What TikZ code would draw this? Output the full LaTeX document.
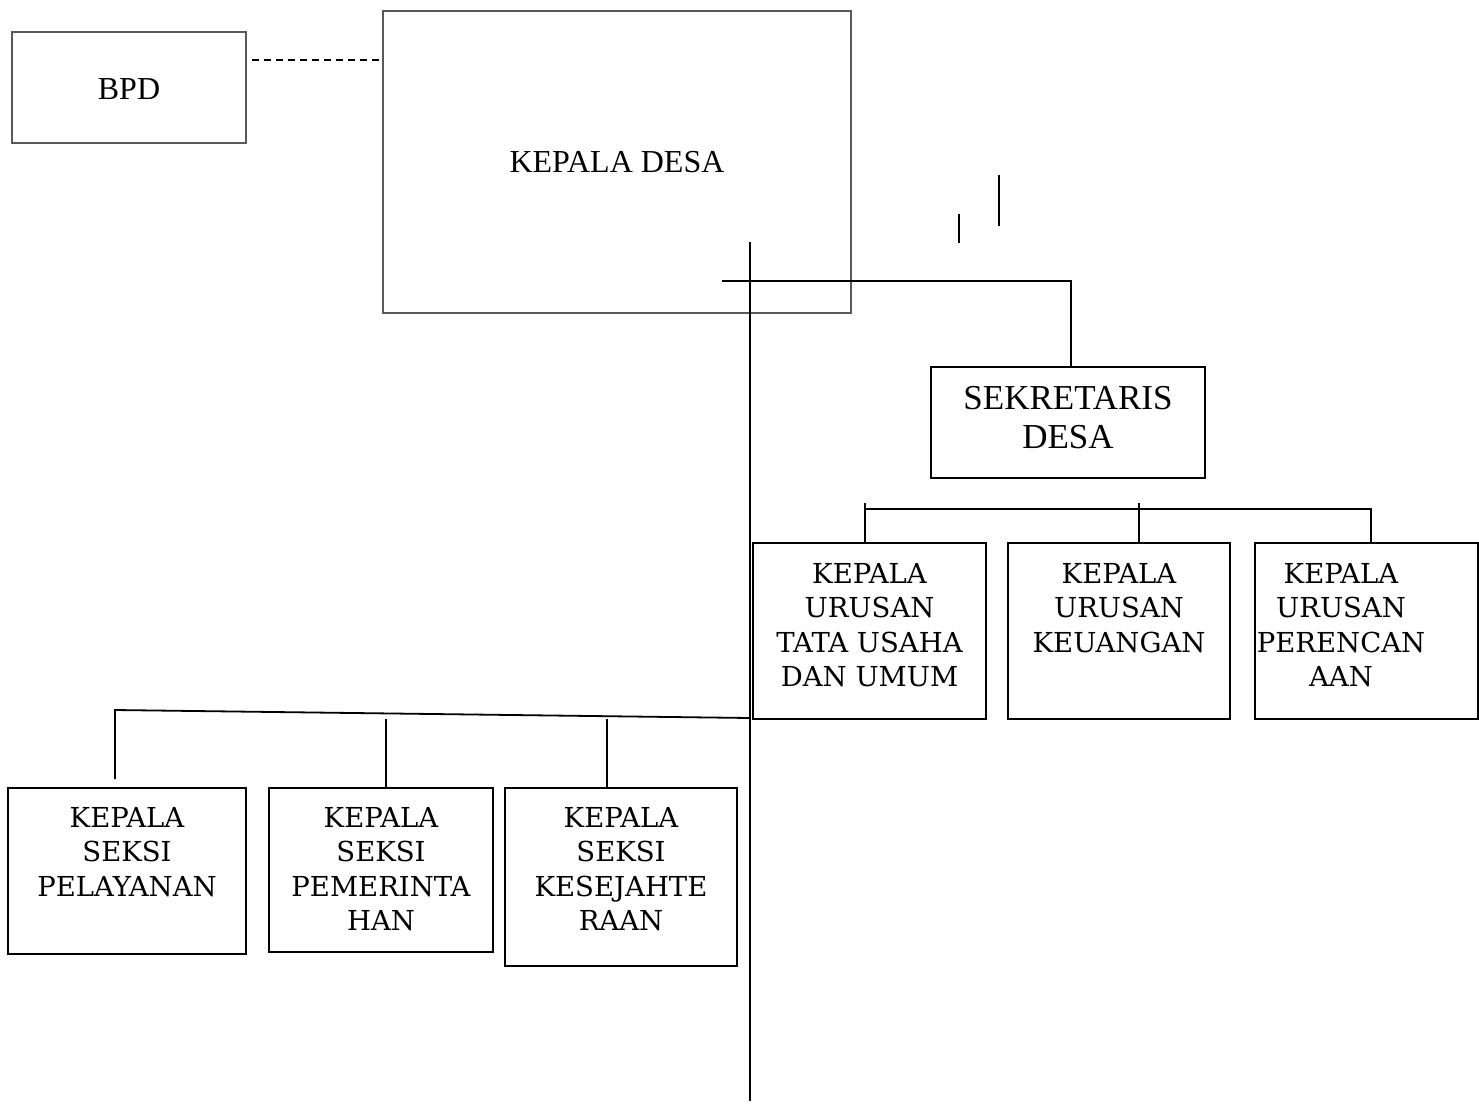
\documentclass[tikz,border=0pt]{standalone}
\usepackage{fontspec}
\setmainfont{DejaVu Serif}
\newfontfamily\timesfont{Liberation Serif}
\begin{document}
\begin{tikzpicture}[x=1pt,y=-1pt,
  thinbox/.style={draw=black!65, line width=1.2pt, inner sep=0pt},
  box/.style={draw=black, line width=1.6pt, inner sep=0pt},
  conn/.style={draw=black, line width=1.8pt},
  lbl/.style={anchor=north, align=center, inner sep=0pt, font=\fontsize{27.5}{34.5}\selectfont},
  tlbl/.style={align=center, inner sep=0pt, font=\timesfont\fontsize{32}{38}\selectfont}]
\useasboundingbox (0,0) rectangle (1479,1103);
\fill[white] (0,0) rectangle (1479,1103);

% top boxes
\node[thinbox, minimum width=234, minimum height=111] (bpd) at (129,87.5) {};
\node[tlbl] (bpdt) at (129,89) {BPD};
\node[thinbox, minimum width=468, minimum height=302] (kd) at (617,162) {};
\node[tlbl] (kdt) at (617,162) {KEPALA DESA};

\coordinate (d1) at (252,60);
\coordinate (d2) at (383,60);
\draw[line width=1.5pt, dash pattern=on 7pt off 5pt] (d1) -- (d2);

% stray marks
\coordinate (s1a) at (959,214); \coordinate (s1b) at (959,243);
\coordinate (s2a) at (999,175); \coordinate (s2b) at (999,226);
\draw[conn] (s1a) -- (s1b);
\draw[conn] (s2a) -- (s2b);

% sekretaris
\node[box, minimum width=274, minimum height=111] (sek) at (1068,422.5) {};
\node[anchor=north, align=center, inner sep=0pt, font=\timesfont\fontsize{35}{39}\selectfont] (sekt) at (1068,386) {SEKRETARIS\\DESA};

% main vertical and horizontal
\coordinate (vtop) at (750,242);
\coordinate (vbot) at (750,1101);
\draw[conn] (vtop) -- (vbot);
\coordinate (h1) at (722,281);
\coordinate (h2) at (1071,281);
\coordinate (h3) at (1071,367);
\draw[conn] (h1) -- (h2) -- (h3);

% urusan boxes
\node[box, minimum width=233, minimum height=176] (tu) at (869.5,631) {};
\node[lbl] (tut) at (869.5,563) {KEPALA\\URUSAN\\TATA USAHA\\DAN UMUM};
\node[box, minimum width=222, minimum height=176] (keu) at (1119,631) {};
\node[lbl] (keut) at (1119,563) {KEPALA\\URUSAN\\KEUANGAN};
\node[box, minimum width=223, minimum height=176] (per) at (1366.5,631) {};
\node[lbl] (pert) at (1341,563) {KEPALA\\URUSAN\\PERENCAN\\AAN};

% urusan bus
\coordinate (u1) at (865,509); \coordinate (u1t) at (865,503); \coordinate (u1b) at (865,543);
\coordinate (u2t) at (1139,503); \coordinate (u2b) at (1139,543);
\coordinate (u3) at (1371,509); \coordinate (u3b) at (1371,543);
\draw[conn] (u1) -- (u3) -- (u3b);
\draw[conn] (u1t) -- (u1b);
\draw[conn] (u2t) -- (u2b);

% seksi boxes
\node[box, minimum width=238, minimum height=166] (pel) at (127,871) {};
\node[lbl] (pelt) at (127,807) {KEPALA\\SEKSI\\PELAYANAN};
\node[box, minimum width=224, minimum height=164] (pem) at (381,870) {};
\node[lbl] (pemt) at (381,807) {KEPALA\\SEKSI\\PEMERINTA\\HAN};
\node[box, minimum width=232, minimum height=178] (kes) at (621,877) {};
\node[lbl] (kest) at (621,807) {KEPALA\\SEKSI\\KESEJAHTE\\RAAN};

% seksi bus
\coordinate (b1) at (115,710); \coordinate (b1b) at (115,779);
\coordinate (b2) at (750,718);
\coordinate (b3t) at (386,719); \coordinate (b3b) at (386,788);
\coordinate (b4t) at (607,719); \coordinate (b4b) at (607,788);
\draw[conn] (b1b) -- (b1) -- (b2);
\draw[conn] (b3t) -- (b3b);
\draw[conn] (b4t) -- (b4b);
\end{tikzpicture}
\end{document}
